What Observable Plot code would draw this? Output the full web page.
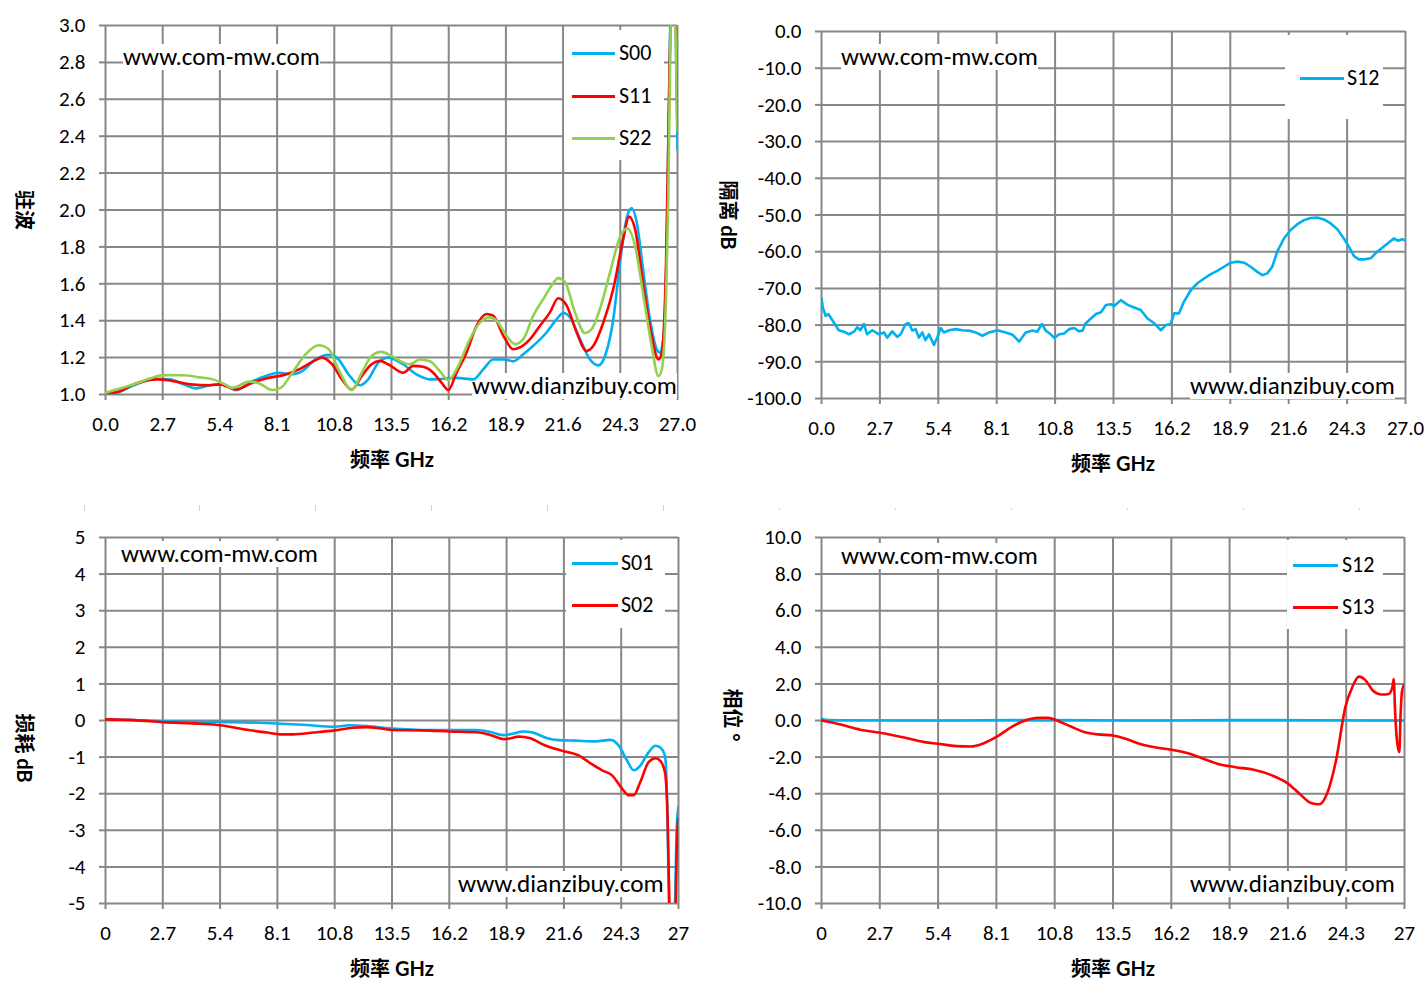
<!DOCTYPE html>
<html>
<head>
<meta charset="utf-8">
<script src="https://cdn.jsdelivr.net/npm/d3@7"></script>
<script src="https://cdn.jsdelivr.net/npm/@observablehq/plot@0.6"></script>
<style>
html, body { margin: 0; padding: 0; background: #fff; }
#page { position: relative; width: 1426px; height: 998px; overflow: hidden; background: #fff;
  font-family: Calibri, Carlito, Lato, "Open Sans", sans-serif; color: #000; }
#page svg { position: absolute; max-width: none; }
.ov { position: absolute; white-space: nowrap; }
.wm { background: #fff; font-size: 24px; line-height: 26px; transform-origin: left center; font-family: Calibri, Carlito, "Open Sans", sans-serif; }
.box { background: #fff; }
.lline { height: 3px; }
.ltxt { font-size: 22px; line-height: 24px; }
.xt { font-weight: bold; font-size: 20px; line-height: 24px; font-family: Lato, "Noto Sans CJK SC", sans-serif; }
.yt { font-weight: bold; font-size: 20px; line-height: 24px; font-family: Lato, "Noto Sans CJK SC", sans-serif; }
.faint { background: #d0d0d0; width: 1px; }
</style>
</head>
<body>
<div id="page"></div>
<script>
// ---------------- data ----------------
const X_TICKS = [0, 2.7, 5.4, 8.1, 10.8, 13.5, 16.2, 18.9, 21.6, 24.3, 27];
const Y_TICKS_VSWR = [1.0, 1.2, 1.4, 1.6, 1.8, 2.0, 2.2, 2.4, 2.6, 2.8, 3.0];
const Y_TICKS_ISO = [0, -10, -20, -30, -40, -50, -60, -70, -80, -90, -100];
const Y_TICKS_LOSS = [5, 4, 3, 2, 1, 0, -1, -2, -3, -4, -5];
const Y_TICKS_PHASE = [10, 8, 6, 4, 2, 0, -2, -4, -6, -8, -10];

// VSWR (panel 1): [GHz, VSWR]
const S00 = [[0,1.0],[0.5,1.008],[1.33,1.05],[2.42,1.085],[3.04,1.082],[3.67,1.055],[4.29,1.033],[4.92,1.05],[5.54,1.055],[6.16,1.024],[6.79,1.064],[7.57,1.1],[8.19,1.118],[8.82,1.11],[9.29,1.127],[9.91,1.19],[10.54,1.215],[11.0,1.19],[11.47,1.11],[12.02,1.05],[12.4,1.082],[12.88,1.173],[13.34,1.2],[14.05,1.164],[14.68,1.109],[15.31,1.082],[15.94,1.085],[16.57,1.09],[17.36,1.082],[17.83,1.136],[18.3,1.19],[18.78,1.19],[19.25,1.18],[19.72,1.218],[20.19,1.264],[20.82,1.336],[21.3,1.409],[21.61,1.442],[21.93,1.418],[22.4,1.3],[22.87,1.19],[23.26,1.158],[23.58,1.209],[23.97,1.409],[24.29,1.718],[24.6,1.955],[24.84,2.01],[25.07,1.936],[25.39,1.664],[25.7,1.409],[26.02,1.245],[26.18,1.227],[26.33,1.3],[26.49,1.8],[26.6,2.6],[26.7,3.3],[26.8,3.6],[26.9,3.1],[27.0,2.33]];
const S11 = [[0,1.005],[0.6,1.015],[1.33,1.055],[2.42,1.082],[3.04,1.076],[4.0,1.055],[4.92,1.05],[5.38,1.055],[6.16,1.027],[6.94,1.064],[7.57,1.087],[8.51,1.109],[9.13,1.136],[9.75,1.176],[10.22,1.2],[10.69,1.164],[11.16,1.082],[11.63,1.027],[12.1,1.1],[12.56,1.164],[12.95,1.182],[13.34,1.164],[14.05,1.118],[14.52,1.155],[15.0,1.15],[15.47,1.118],[15.86,1.064],[16.18,1.024],[16.57,1.118],[17.04,1.227],[17.52,1.373],[17.99,1.436],[18.3,1.427],[18.78,1.318],[19.25,1.245],[19.56,1.255],[20.04,1.3],[20.51,1.373],[20.98,1.445],[21.37,1.522],[21.77,1.482],[22.24,1.336],[22.71,1.236],[23.03,1.264],[23.5,1.39],[23.97,1.573],[24.44,1.845],[24.71,1.964],[24.99,1.9],[25.39,1.591],[25.78,1.318],[26.1,1.19],[26.26,1.227],[26.46,1.718],[26.57,2.4],[26.7,3.2],[26.8,3.5],[26.9,3.2],[27.0,2.54]];
const S22 = [[0,1.01],[1.33,1.055],[2.1,1.087],[2.73,1.105],[3.67,1.104],[4.45,1.093],[5.07,1.082],[5.54,1.06],[6.0,1.036],[6.79,1.07],[7.26,1.06],[7.88,1.024],[8.27,1.036],[8.82,1.118],[9.44,1.218],[10.07,1.267],[10.54,1.245],[11.0,1.136],[11.63,1.024],[12.1,1.118],[12.56,1.209],[13.03,1.231],[13.5,1.209],[14.05,1.173],[14.37,1.164],[14.84,1.19],[15.31,1.18],[15.78,1.127],[16.18,1.078],[16.57,1.136],[17.2,1.3],[17.67,1.39],[18.14,1.418],[18.46,1.4],[18.93,1.318],[19.33,1.273],[19.72,1.3],[20.19,1.427],[20.67,1.518],[21.06,1.591],[21.37,1.631],[21.69,1.609],[22.16,1.445],[22.63,1.333],[22.95,1.355],[23.34,1.464],[23.82,1.664],[24.29,1.855],[24.63,1.9],[24.99,1.809],[25.39,1.536],[25.78,1.264],[26.1,1.1],[26.26,1.136],[26.46,1.536],[26.57,2.1],[26.7,3.2],[26.8,3.4],[26.9,3.0],[27.0,2.43]];

// Isolation (panel 2): [GHz, dB]
const S12_ISO = [[0,-72.7],[0.06,-75.2],[0.19,-77.5],[0.31,-77],[0.42,-77.9],[0.57,-79.3],[0.8,-81.4],[1.03,-81.8],[1.27,-82.5],[1.5,-81.8],[1.65,-80.6],[1.8,-81.4],[1.96,-79.7],[2.11,-82.5],[2.35,-81.4],[2.65,-82.5],[2.89,-82],[3.04,-83.4],[3.27,-81.7],[3.5,-83.2],[3.66,-82.5],[3.89,-79.7],[4.04,-79.5],[4.2,-81.5],[4.35,-81.1],[4.5,-83.4],[4.66,-82],[4.81,-84.1],[4.97,-82.5],[5.2,-85.4],[5.35,-83.4],[5.51,-80.8],[5.66,-82],[5.9,-81.4],[6.2,-81.1],[6.51,-81.4],[6.82,-81.5],[7.13,-82],[7.44,-82.9],[7.75,-82],[8.13,-81.4],[8.52,-82],[8.83,-82.6],[9.14,-84.5],[9.44,-82],[9.75,-81.5],[9.98,-81.8],[10.19,-79.7],[10.37,-81.5],[10.6,-82.5],[10.76,-83.5],[10.99,-82.5],[11.22,-82.3],[11.45,-81.1],[11.68,-80.8],[11.91,-81.7],[12.07,-81.5],[12.19,-79.7],[12.38,-78.6],[12.69,-77],[12.92,-76.5],[13.15,-74.5],[13.38,-74.3],[13.53,-74.8],[13.84,-73.2],[14.15,-74.5],[14.45,-75.2],[14.76,-75.9],[15.07,-78.2],[15.38,-79.5],[15.69,-81.4],[15.92,-80],[16.15,-79.7],[16.3,-76.8],[16.53,-76.8],[16.76,-73.6],[17.07,-70.5],[17.38,-68.6],[17.69,-67.3],[18.0,-66.1],[18.3,-65.2],[18.61,-64.1],[18.92,-63],[19.23,-62.7],[19.54,-63],[19.84,-64.1],[20.15,-65.5],[20.38,-66.4],[20.61,-65.9],[20.84,-64.1],[21.07,-60],[21.38,-56.4],[21.69,-54.1],[22.0,-52.5],[22.31,-51.4],[22.61,-50.8],[22.92,-50.7],[23.23,-51.2],[23.54,-52.3],[23.85,-53.9],[24.15,-56.4],[24.38,-58.6],[24.62,-61.2],[24.85,-62.1],[25.08,-62.1],[25.39,-61.8],[25.69,-60],[26.0,-58.6],[26.23,-57.5],[26.46,-56.4],[26.65,-57],[26.85,-56.6],[27.0,-57]];

// Insertion loss (panel 3): [GHz, dB]
const S01 = [[0,0.03],[1.33,0.01],[2.7,-0.02],[4.46,-0.04],[6.03,-0.045],[8.1,-0.08],[9.47,-0.125],[10.8,-0.17],[11.5,-0.13],[12.3,-0.15],[13.5,-0.22],[14.2,-0.24],[14.98,-0.26],[16.2,-0.26],[17.48,-0.26],[18.1,-0.31],[18.73,-0.4],[19.19,-0.36],[19.66,-0.3],[20.13,-0.33],[20.75,-0.47],[21.22,-0.53],[22.16,-0.55],[23.09,-0.57],[23.8,-0.53],[24.19,-0.69],[24.58,-1.1],[24.89,-1.36],[25.2,-1.23],[25.59,-0.87],[25.92,-0.69],[26.14,-0.74],[26.36,-0.96],[26.47,-2.3],[26.55,-5.0],[26.62,-8],[26.76,-8],[26.84,-5.0],[26.92,-2.9],[27.0,-2.35]];
const S02 = [[0,0.03],[1.33,0.01],[2.7,-0.045],[4.46,-0.09],[5.4,-0.13],[6.5,-0.24],[7.6,-0.33],[8.22,-0.38],[8.85,-0.38],[9.8,-0.33],[10.8,-0.27],[11.65,-0.2],[12.3,-0.18],[12.9,-0.21],[13.5,-0.26],[14.98,-0.27],[16.2,-0.3],[17.6,-0.33],[18.1,-0.39],[18.8,-0.51],[19.5,-0.44],[19.97,-0.48],[20.75,-0.69],[21.53,-0.83],[22.31,-0.96],[22.78,-1.14],[23.4,-1.36],[23.87,-1.5],[24.34,-1.86],[24.65,-2.04],[24.89,-2.04],[25.2,-1.68],[25.59,-1.14],[25.92,-1.03],[26.14,-1.1],[26.36,-1.41],[26.49,-2.76],[26.57,-5.0],[26.65,-8],[26.8,-8],[26.87,-5.0],[26.94,-3.1],[27.0,-2.67]];

// Phase (panel 4): [GHz, degrees]
const S12_PH = [[0,0.1],[0.3,0.02],[5,0],[10,0.02],[15,0],[20,0.02],[27,0]];
const S13_PH = [[0,0],[0.74,-0.18],[1.8,-0.5],[2.7,-0.67],[3.7,-0.9],[4.77,-1.18],[5.38,-1.27],[6.25,-1.4],[6.89,-1.42],[7.52,-1.24],[8.1,-0.9],[8.79,-0.36],[9.43,0],[10.06,0.15],[10.5,0.15],[10.9,0],[11.55,-0.33],[12.2,-0.64],[12.8,-0.76],[13.5,-0.82],[14.09,-1.0],[14.72,-1.27],[15.57,-1.49],[16.2,-1.6],[17.05,-1.82],[17.69,-2.09],[18.33,-2.36],[19.17,-2.55],[20.02,-2.69],[20.87,-3.0],[21.57,-3.42],[22.14,-4.0],[22.67,-4.51],[23.05,-4.58],[23.41,-4.0],[23.83,-2.18],[24.26,0.73],[24.58,1.82],[24.89,2.4],[25.21,2.18],[25.53,1.64],[25.95,1.42],[26.27,1.45],[26.44,1.82],[26.5,2.27],[26.57,0.36],[26.65,-1.09],[26.76,-1.73],[26.82,0.36],[26.89,1.64],[27,2.0]];

const LEG1 = ["S00", "S11", "S22"];
const LEG2 = ["S12"];
const LEG3 = ["S01", "S02"];
const LEG4 = ["S12", "S13"];

// ---------------- style ----------------
const GRID = "#878787";
const BLUE = "#00B0F0", RED = "#FF0000", GREEN = "#92D050";
const FONT = "Calibri, Carlito, Lato, 'Open Sans', sans-serif";
const f1 = d => d.toFixed(1);
const fg = d => String(d);

const page = document.getElementById("page");

function ov(cls, text, left, cy, extra) {
  const el = document.createElement("div");
  el.className = "ov " + cls;
  if (text != null) el.textContent = text;
  el.style.left = left + "px";
  el.style.top = cy + "px";
  Object.assign(el.style, extra || {});
  page.appendChild(el);
  return el;
}

function watermark(text, left, cy, targetW) {
  const el = ov("wm", text, left, cy);
  const w = el.offsetWidth, h = el.offsetHeight;
  el.style.top = (cy - h / 2) + "px";
  el.style.transform = `scaleX(${targetW / w})`;
}

function legend(box, items) {
  ov("box", null, box.x, box.y, {width: box.w + "px", height: box.h + "px"});
  items.forEach(it => {
    ov("lline", null, it.lx0, it.cy - 1.5, {width: (it.lx1 - it.lx0) + "px", background: it.color});
    const t = ov("ltxt", it.label, it.tx, it.cy);
    t.style.top = (it.cy - t.offsetHeight / 2) + "px";
  });
}

function xtitle(cx, cy) {
  ov("xt", "频率 GHz", cx, cy, {transform: "translate(-50%,-50%)"});
}
function ytitle(text, cx, cy) {
  ov("yt", text, cx, cy, {transform: "translate(-50%,-50%) rotate(90deg)"});
}

function panel(cfg) {
  const {left, top, width, height, fx0, fx1, fy0, fy1} = cfg;
  const base = {
    width, height,
    marginLeft: fx0 - left, marginRight: left + width - fx1,
    marginTop: fy0 - top, marginBottom: top + height - fy1,
    style: {fontFamily: FONT, fontSize: "21px", color: "#000", background: "transparent", overflow: "visible"}
  };
  const gridSvg = Plot.plot({
    ...base,
    x: {domain: [0, 27]},
    y: {domain: cfg.yDomain},
    marks: [
      Plot.gridX(X_TICKS, {stroke: GRID, strokeOpacity: 1, strokeWidth: 2}),
      Plot.gridY(cfg.yTicks, {stroke: GRID, strokeOpacity: 1, strokeWidth: 2}),
      Plot.axisX(X_TICKS, {tickSize: 6, tickPadding: 16, stroke: GRID, strokeWidth: 2, strokeOpacity: 1, tickFormat: cfg.xFmt, label: null}),
      Plot.axisY(cfg.yTicks, {tickSize: 6, tickPadding: 14, stroke: GRID, strokeWidth: 2, strokeOpacity: 1, tickFormat: cfg.yFmt, label: null})
    ]
  });
  gridSvg.style.left = left + "px";
  gridSvg.style.top = top + "px";
  page.appendChild(gridSvg);

  cfg.decor();

  const lineSvg = Plot.plot({
    ...base,
    x: {domain: [0, 27], axis: null},
    y: {domain: cfg.yDomain, axis: null},
    marks: cfg.series.map(s => Plot.line(s.data.map(([f, v]) => ({f, v})), {
      x: "f", y: "v", stroke: s.color, strokeWidth: 2.6, curve: cfg.curve, clip: true
    }))
  });
  lineSvg.style.left = left + "px";
  lineSvg.style.top = top + "px";
  page.appendChild(lineSvg);
}

// Panel 1: VSWR
panel({
  left: 0, top: 0, width: 712, height: 490, fx0: 105, fx1: 677, fy0: 25, fy1: 394,
  yDomain: [1, 3], yTicks: Y_TICKS_VSWR, xFmt: f1, yFmt: f1, curve: "monotone-x",
  series: [{data: S00, color: BLUE}, {data: S11, color: RED}, {data: S22, color: GREEN}],
  decor() {
    watermark("www.com-mw.com", 123, 57, 197);
    watermark("www.dianzibuy.com", 472, 386, 205);
    legend({x: 564, y: 30, w: 100, h: 130}, [
      {label: LEG1[0], color: BLUE, cy: 53, lx0: 572, lx1: 615, tx: 619},
      {label: LEG1[1], color: RED, cy: 96, lx0: 572, lx1: 615, tx: 619},
      {label: LEG1[2], color: GREEN, cy: 138, lx0: 572, lx1: 615, tx: 619}
    ]);
    xtitle(392, 459);
    ytitle("驻波", 25, 210);
  }
});

// Panel 2: isolation
panel({
  left: 712, top: 0, width: 714, height: 490, fx0: 821, fx1: 1405, fy0: 31, fy1: 398,
  yDomain: [-100, 0], yTicks: Y_TICKS_ISO, xFmt: f1, yFmt: f1, curve: "linear",
  series: [{data: S12_ISO, color: BLUE}],
  decor() {
    watermark("www.com-mw.com", 841, 57, 197);
    watermark("www.dianzibuy.com", 1190, 386, 205);
    legend({x: 1285, y: 35, w: 98, h: 84}, [
      {label: LEG2[0], color: BLUE, cy: 78, lx0: 1300, lx1: 1344, tx: 1347}
    ]);
    xtitle(1113, 463);
    ytitle("隔离 dB", 729, 215);
  }
});

// faint marks between the rows
[84, 199, 315, 431, 547, 663].forEach(x => ov("faint", null, x, 505, {height: "6px"}));
[779, 895, 1011, 1127, 1243, 1359].forEach(x => ov("faint", null, x, 508, {height: "2px"}));

// Panel 3: insertion loss
panel({
  left: 0, top: 495, width: 712, height: 503, fx0: 105, fx1: 678, fy0: 537, fy1: 903,
  yDomain: [-5, 5], yTicks: Y_TICKS_LOSS, xFmt: fg, yFmt: fg, curve: "monotone-x",
  series: [{data: S01, color: BLUE}, {data: S02, color: RED}],
  decor() {
    watermark("www.com-mw.com", 121, 554, 197);
    watermark("www.dianzibuy.com", 458, 884, 206);
    legend({x: 566, y: 540, w: 99, h: 88}, [
      {label: LEG3[0], color: BLUE, cy: 563, lx0: 572, lx1: 618, tx: 621},
      {label: LEG3[1], color: RED, cy: 605, lx0: 572, lx1: 618, tx: 621}
    ]);
    xtitle(392, 968);
    ytitle("损耗 dB", 25, 748);
  }
});

// Panel 4: phase
panel({
  left: 712, top: 495, width: 714, height: 503, fx0: 821, fx1: 1404, fy0: 537, fy1: 903,
  yDomain: [-10, 10], yTicks: Y_TICKS_PHASE, xFmt: fg, yFmt: f1, curve: "monotone-x",
  series: [{data: S12_PH, color: BLUE}, {data: S13_PH, color: RED}],
  decor() {
    watermark("www.com-mw.com", 841, 556, 197);
    watermark("www.dianzibuy.com", 1190, 884, 205);
    legend({x: 1287, y: 540, w: 96, h: 89}, [
      {label: LEG4[0], color: BLUE, cy: 565, lx0: 1293, lx1: 1338, tx: 1342},
      {label: LEG4[1], color: RED, cy: 607, lx0: 1293, lx1: 1338, tx: 1342}
    ]);
    xtitle(1113, 968);
    ytitle("相位 °", 733, 715);
  }
});
</script>
</body>
</html>
